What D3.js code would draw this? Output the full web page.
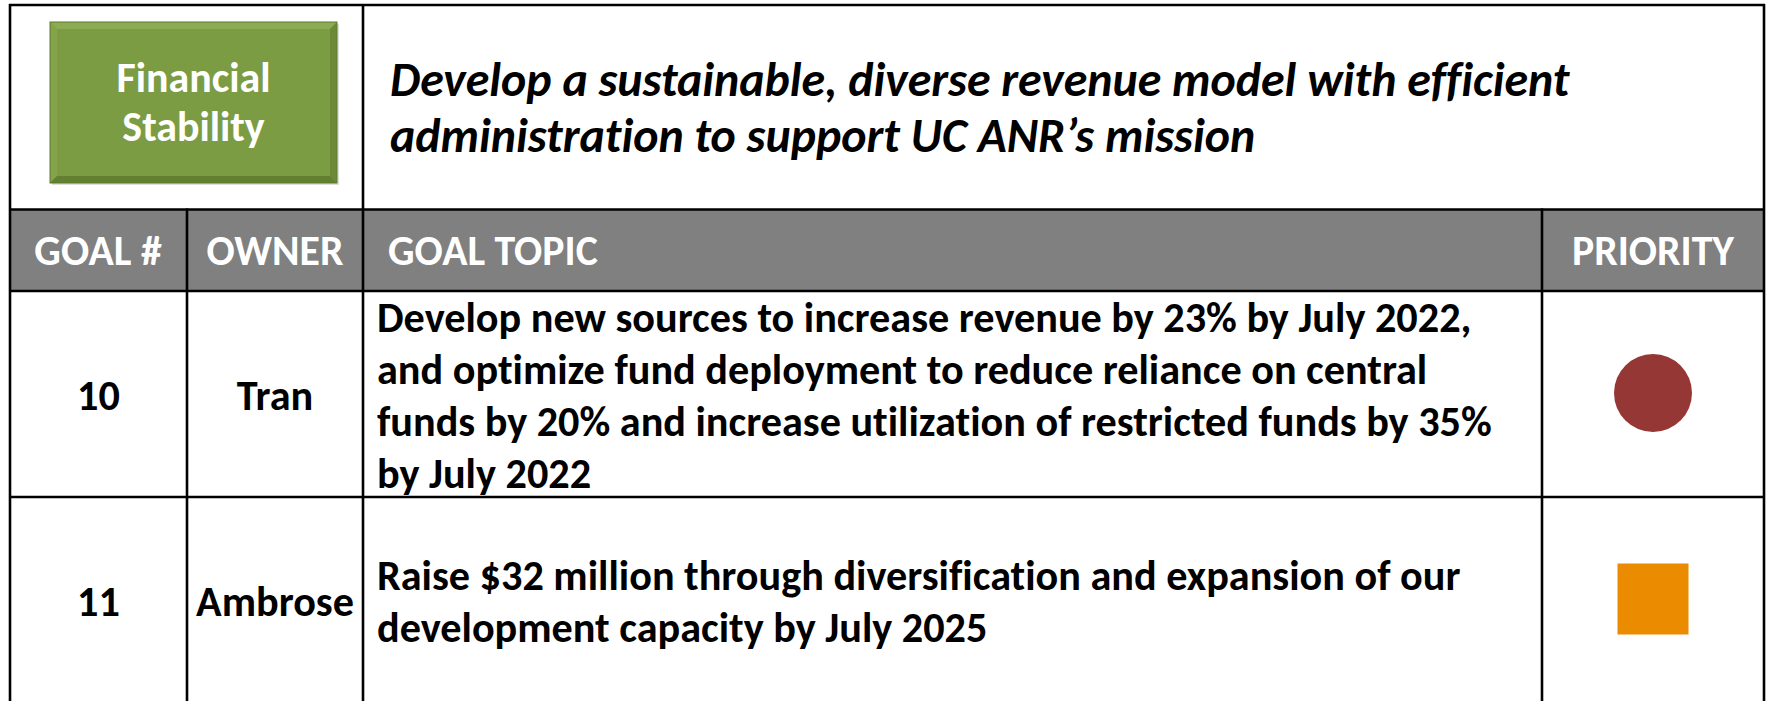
<!DOCTYPE html>
<html><head><meta charset="utf-8">
<script src="https://cdn.jsdelivr.net/npm/d3@7"></script>
<style>html,body{margin:0;padding:0;background:#fff;} svg{display:block;} text{font-variant-ligatures:none;font-feature-settings:"liga" 0,"clig" 0,"dlig" 0;}</style>
</head><body>
<svg id="chart" width="1766" height="701"></svg>
<script>
// ---------- data ----------
const pillarLabel = ["Financial", "Stability"];
const pillarStatement = [
  "Develop a sustainable, diverse revenue model with efficient",
  "administration to support UC ANR\u2019s mission"
];
const columnHeaders = ["GOAL #", "OWNER", "GOAL TOPIC", "PRIORITY"];
const goalNumbers = ["10", "11"];
const owners = ["Tran", "Ambrose"];
const goalTopics = [
  ["Develop new sources to increase revenue by 23% by July 2022,",
   "and optimize fund deployment to reduce reliance on central",
   "funds by 20% and increase utilization of restricted funds by 35%",
   "by July 2022"],
  ["Raise $32 million through diversification and expansion of our",
   "development capacity by July 2025"]
];
const priorities = ["High", "Medium"];
const priorityLevels = ["High", "Medium"];
const priorityColors = ["#953735", "#EB8C00"];

// ---------- layout ----------
const FONT = "Carlito, Calibri, Lato, 'Open Sans', sans-serif";
const L = {
  left: 10, right: 1764, top: 5, headTop: 209.5, headBottom: 291, bottom: 703,
  colEdges: [10, 187, 363, 1542, 1764],
  box: {x: 50, y: 22, w: 287, h: 161},
  stroke: 2.6
};

const svg = d3.select("#chart");

const x = d3.scaleOrdinal().domain(columnHeaders).range(L.colEdges.slice(0, 4));
const xEnd = d3.scaleOrdinal().domain(columnHeaders).range(L.colEdges.slice(1));
const xMid = c => (x(c) + xEnd(c)) / 2;
const y = d3.scaleBand().domain(goalNumbers).range([L.headBottom, L.bottom]);
const color = d3.scaleOrdinal().domain(priorityLevels).range(priorityColors);
const shape = d3.scaleOrdinal().domain(priorityLevels).range([d3.symbolCircle, d3.symbolSquare]);
const symSize = d3.scaleOrdinal().domain(priorityLevels).range([Math.PI * 39 * 39, 71 * 71]);

// fit helper: scale font so that the widest line in sel matches target width
function fit(sel, target) {
  let maxW = 0;
  sel.each(function() { maxW = Math.max(maxW, this.getComputedTextLength()); });
  const fs = parseFloat(sel.attr("font-size"));
  const nfs = fs * target / maxW;
  sel.attr("font-size", nfs);
  return nfs;
}

// ---------- header fill ----------
svg.append("rect")
  .attr("x", L.left).attr("y", L.headTop)
  .attr("width", L.right - L.left).attr("height", L.headBottom - L.headTop)
  .attr("fill", "#808080");

// ---------- green pillar box ----------
const b = L.box, bev = 7;
const g = svg.append("g");
g.append("rect").attr("x", b.x + 2).attr("y", b.y + 2).attr("width", b.w).attr("height", b.h)
  .attr("fill", "#c9c9c9").attr("opacity", 0.6);
g.append("rect").attr("x", b.x).attr("y", b.y).attr("width", b.w).attr("height", b.h)
  .attr("fill", "#7C9C43");
g.append("polygon").attr("points", [[b.x,b.y],[b.x+b.w,b.y],[b.x+b.w-bev,b.y+bev],[b.x+bev,b.y+bev]].join(" "))
  .attr("fill", "#8CAB52");
g.append("polygon").attr("points", [[b.x,b.y],[b.x+bev,b.y+bev],[b.x+bev,b.y+b.h-bev],[b.x,b.y+b.h]].join(" "))
  .attr("fill", "#84A34A");
g.append("polygon").attr("points", [[b.x+b.w,b.y],[b.x+b.w,b.y+b.h],[b.x+b.w-bev,b.y+b.h-bev],[b.x+b.w-bev,b.y+bev]].join(" "))
  .attr("fill", "#6B8936");
g.append("polygon").attr("points", [[b.x,b.y+b.h],[b.x+bev,b.y+b.h-bev],[b.x+b.w-bev,b.y+b.h-bev],[b.x+b.w,b.y+b.h]].join(" "))
  .attr("fill", "#637F31");
g.append("rect").attr("x", b.x).attr("y", b.y).attr("width", b.w).attr("height", b.h)
  .attr("fill", "none").attr("stroke", "#5E7A2E").attr("stroke-width", 1);

const boxText = g.selectAll("text.box").data(pillarLabel).join("text")
  .attr("class", "box")
  .attr("x", b.x + b.w / 2).attr("y", (d, i) => 92 + i * 49)
  .attr("text-anchor", "middle").attr("fill", "#fff")
  .attr("font-family", FONT).attr("font-weight", "bold").attr("font-size", 40)
  .text(d => d);
const boxFs = fit(boxText.filter((d, i) => i === 0), 154);
boxText.attr("font-size", boxFs);

// ---------- title ----------
const title = svg.selectAll("text.title").data(pillarStatement).join("text")
  .attr("class", "title")
  .attr("x", 390).attr("y", (d, i) => 96 + i * 56)
  .attr("font-family", FONT).attr("font-weight", "bold").attr("font-style", "italic")
  .attr("font-size", 42).attr("fill", "#000")
  .text(d => d);
fit(title, 1180);

// ---------- column headers ----------
const hdrY = (L.headTop + L.headBottom) / 2 + 15;
const hdr = svg.selectAll("text.hdr").data(columnHeaders).join("text")
  .attr("class", "hdr")
  .attr("x", d => d === "GOAL TOPIC" ? x(d) + 25 : (d === "GOAL #" ? 98 : xMid(d)))
  .attr("y", hdrY)
  .attr("text-anchor", d => d === "GOAL TOPIC" ? "start" : "middle")
  .attr("fill", "#fff").attr("font-family", FONT).attr("font-weight", "bold")
  .attr("font-size", 40)
  .text(d => d);
const hfs = fit(hdr.filter(d => d === "PRIORITY"), 162);
hdr.attr("font-size", hfs);

// ---------- rows ----------
const lineH = 51.7;
const rows = svg.selectAll("g.row").data(goalNumbers).join("g").attr("class", "row");

const numText = rows.append("text")
  .attr("x", 98.5).attr("y", d => y(d) + y.bandwidth() / 2 + 16)
  .attr("text-anchor", "middle").attr("font-family", FONT).attr("font-weight", "bold")
  .attr("font-size", 40).text(d => d);

const ownerText = rows.append("text")
  .attr("x", xMid("OWNER")).attr("y", d => y(d) + y.bandwidth() / 2 + 16)
  .attr("text-anchor", "middle").attr("font-family", FONT).attr("font-weight", "bold")
  .attr("font-size", 40).text((d, i) => owners[i]);

const topicLines = rows.selectAll("text.topic")
  .data((d, i) => goalTopics[i].map((t, j, arr) => ({goal: d, text: t, j, n: arr.length})))
  .join("text").attr("class", "topic")
  .attr("x", x("GOAL TOPIC") + 14)
  .attr("y", d => y(d.goal) + y.bandwidth() / 2 - (d.n - 1) / 2 * lineH + d.j * lineH + 16)
  .attr("font-family", FONT).attr("font-weight", "bold").attr("font-size", 40)
  .text(d => d.text);
const bfs = fit(topicLines.filter(d => d.goal === "10" && d.j === 2), 1115);
topicLines.attr("font-size", bfs);
numText.attr("font-size", bfs);
ownerText.attr("font-size", bfs);

rows.append("path")
  .attr("transform", (d, i) => `translate(${xMid("PRIORITY")},${y(d) + y.bandwidth() / 2 - 1})`)
  .attr("d", (d, i) => d3.symbol().type(shape(priorities[i])).size(symSize(priorities[i]))())
  .attr("fill", (d, i) => color(priorities[i]));

// ---------- grid lines ----------
const hLines = [
  [L.left, L.right, L.top],
  [L.left, L.right, L.headTop],
  [L.left, L.right, L.headBottom],
  ...goalNumbers.slice(1).map(gn => [L.left, L.right, y(gn)])
];
const vLines = [
  [L.left, L.top, L.bottom],
  [x("OWNER"), L.headTop, L.bottom],
  [x("GOAL TOPIC"), L.top, L.bottom],
  [x("PRIORITY"), L.headTop, L.bottom],
  [L.right, L.top, L.bottom]
];
svg.selectAll("line.h").data(hLines).join("line").attr("class", "h")
  .attr("x1", d => d[0] - 1).attr("x2", d => d[1] + 1).attr("y1", d => d[2]).attr("y2", d => d[2])
  .attr("stroke", "#000").attr("stroke-width", L.stroke);
svg.selectAll("line.v").data(vLines).join("line").attr("class", "v")
  .attr("x1", d => d[0]).attr("x2", d => d[0]).attr("y1", d => d[1] - 1).attr("y2", d => d[2])
  .attr("stroke", "#000").attr("stroke-width", L.stroke);
</script>
</body></html>
